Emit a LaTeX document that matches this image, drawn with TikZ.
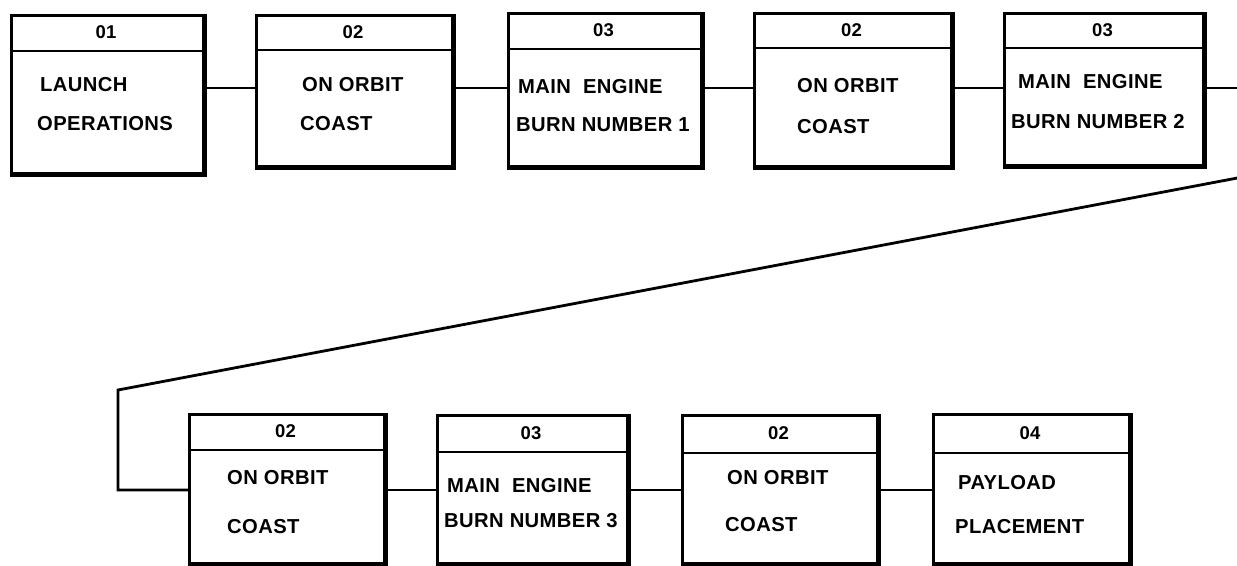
\documentclass[tikz,border=0pt]{standalone}
\usepackage{fontspec}
\setmainfont{Liberation Sans}[LetterSpace=2]
\tikzset{
  boxframe/.style={draw, line width=2.8pt, inner sep=0pt, anchor=north west},
  divline/.style={line width=2.6pt},
  shadowedge/.style={line width=4.8pt},
  conn/.style={line width=2.8pt},
  hdr/.style={font=\bfseries\fontsize{18.5}{18.5}\selectfont, anchor=center, inner sep=0pt},
  body/.style={font=\bfseries\fontsize{20.2}{20.2}\selectfont, anchor=west, inner sep=0pt},
}
% #1 name, #2 left, #3 top, #4 right, #5 bottom, #6 divider y, #7 code
\newcommand\stagebox[7]{%
  \node[boxframe, minimum width={#4pt-#2pt}, minimum height={#5pt-#3pt}] (#1) at (#2pt,-#3pt) {};
  \coordinate (#1d) at (0pt,-#6pt);
  \draw[divline] (#1.west |- #1d) -- (#1.east |- #1d);
  \draw[shadowedge] (#1.north east) -- (#1.south east) -- (#1.south west);
  \node[hdr] (#1h) at ({(#2+#4)/2*1pt},{-(#3+#6)/2*1pt}) {#7};
}
\begin{document}
\begin{tikzpicture}[x=1pt,y=1pt]
\useasboundingbox (0,0) rectangle (1237,-565);
\fill[white] (0,0) rectangle (1237,-565);

% top row
\stagebox{b1}{10}{14}{202}{172}{51}{01}
\stagebox{b2}{255}{14}{451}{165}{50}{02}
\stagebox{b3}{507}{12}{700}{165}{49}{03}
\stagebox{b4}{753}{12}{950}{165}{48}{02}
\stagebox{b5}{1003}{12}{1202}{164}{48}{03}

\node[body] (b1a) at (40,-85) {LAUNCH};
\node[body] (b1b) at (37,-124) {OPERATIONS};
\node[body] (b2a) at (302,-85) {ON ORBIT};
\node[body] (b2b) at (300,-124) {COAST};
\node[body] (b3a) at (518,-87) {MAIN\ \ ENGINE};
\node[body] (b3b) at (516,-125) {BURN NUMBER 1};
\node[body] (b4a) at (797,-86) {ON ORBIT};
\node[body] (b4b) at (797,-127) {COAST};
\node[body] (b5a) at (1018,-82) {MAIN\ \ ENGINE};
\node[body] (b5b) at (1011,-122) {BURN NUMBER 2};

% bottom row
\stagebox{b6}{188}{413}{383}{562}{450}{02}
\stagebox{b7}{436}{414}{626}{562}{452}{03}
\stagebox{b8}{681}{414}{876}{562}{453}{02}
\stagebox{b9}{932}{413}{1128}{562}{453}{04}

\node[body] (b6a) at (227,-478) {ON ORBIT};
\node[body] (b6b) at (227,-527) {COAST};
\node[body] (b7a) at (447,-486) {MAIN\ \ ENGINE};
\node[body] (b7b) at (444,-521) {BURN NUMBER 3};
\node[body] (b8a) at (727,-478) {ON ORBIT};
\node[body] (b8b) at (725,-525) {COAST};
\node[body] (b9a) at (958,-483) {PAYLOAD};
\node[body] (b9b) at (955,-527) {PLACEMENT};

% connectors
\coordinate (r1) at (0,-88);
\coordinate (r2) at (0,-490);
\draw[conn] (b1.east |- r1) -- (b2.west |- r1);
\draw[conn] (b2.east |- r1) -- (b3.west |- r1);
\draw[conn] (b3.east |- r1) -- (b4.west |- r1);
\draw[conn] (b4.east |- r1) -- (b5.west |- r1);
\coordinate (e1) at (1240,-88);
\draw[conn] (b5.east |- r1) -- (e1);
\coordinate (e2) at (1240,-177.5);
\coordinate (k) at (118,-390);
\draw[conn] (e2) -- (k) -- (k |- r2) -- (b6.west |- r2);
\draw[conn] (b6.east |- r2) -- (b7.west |- r2);
\draw[conn] (b7.east |- r2) -- (b8.west |- r2);
\draw[conn] (b8.east |- r2) -- (b9.west |- r2);
\end{tikzpicture}
\end{document}
